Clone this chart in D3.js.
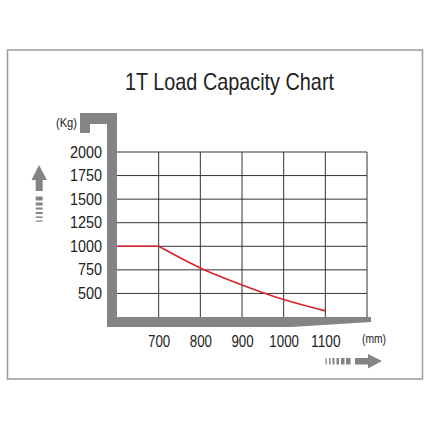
<!DOCTYPE html>
<html>
<head>
<meta charset="utf-8">
<script src="https://cdn.jsdelivr.net/npm/d3@7"></script>
<style>
  body { margin: 0; background: #fff; }
  svg text { font-family: "Liberation Sans", Arial, sans-serif; fill: #222; }
</style>
</head>
<body>
<svg width="430" height="430"></svg>
<script>
// reach (mm) and capacity (kg)
var reach = [600, 700, 800, 900, 1000, 1100];
var capacity = [1000, 1000, 770, 590, 435, 315];
var xTicks = [700, 800, 900, 1000, 1100];
var yTicks = [500, 750, 1000, 1250, 1500, 1750, 2000];
var xGrid = [700, 800, 900, 1000, 1100, 1200];
var yGrid = [500, 750, 1000, 1250, 1500, 1750, 2000];

var svg = d3.select('svg');

var x = d3.scaleLinear().domain([600, 1200]).range([117, 367]);
var y = d3.scaleLinear().domain([250, 2000]).range([317, 152]);

var xLeft = x.range()[0], xRight = x.range()[1];
var yTop = y.range()[1], yBottom = y.range()[0];

// outer frame
svg.append('rect')
  .attr('x', 7.5).attr('y', 50)
  .attr('width', 415).attr('height', 329)
  .attr('fill', 'none')
  .attr('stroke', '#9a9a9a')
  .attr('stroke-width', 1.5);

svg.append('text')
  .attr('x', 125).attr('y', 90)
  .attr('textLength', 209)
  .attr('lengthAdjust', 'spacingAndGlyphs')
  .style('font-size', '24px')
  .text('1T Load Capacity Chart');

// grid
svg.append('g')
  .selectAll('line')
  .data(xGrid)
  .enter().append('line')
  .attr('x1', d => x(d)).attr('x2', d => x(d))
  .attr('y1', yTop).attr('y2', yBottom)
  .attr('stroke', '#333').attr('stroke-width', 1);

svg.append('g')
  .selectAll('line')
  .data(yGrid)
  .enter().append('line')
  .attr('x1', xLeft).attr('x2', xRight)
  .attr('y1', d => y(d)).attr('y2', d => y(d))
  .attr('stroke', '#333').attr('stroke-width', 1);

// fork-shaped gray frame
var g = '#848484';
var fork = d3.path();
fork.moveTo(80, 113);
fork.lineTo(xLeft, 113);
fork.lineTo(xLeft, yBottom);
fork.lineTo(xRight + 4, yBottom);
fork.lineTo(xRight + 4, yBottom + 5);
fork.lineTo(291, yBottom + 10);
fork.lineTo(xLeft - 10, yBottom + 10);
fork.lineTo(xLeft - 10, 124);
fork.lineTo(90, 124);
fork.lineTo(90, 133);
fork.lineTo(80, 133);
fork.closePath();
svg.append('path').attr('d', fork.toString()).attr('fill', g);

// axes
svg.append('g')
  .attr('transform', `translate(${xLeft - 10}, 0)`)
  .call(d3.axisLeft(y).tickValues(yTicks).tickFormat(d3.format('d')).tickSize(0).tickPadding(5))
  .call(a => a.select('.domain').remove())
  .selectAll('text')
  .style('font-size', '16px')
  .attr('textLength', d => String(d).length * 8)
  .attr('lengthAdjust', 'spacingAndGlyphs');

svg.append('g')
  .attr('transform', `translate(0, ${yBottom + 10})`)
  .call(d3.axisBottom(x).tickValues(xTicks).tickFormat(d3.format('d')).tickSize(0).tickPadding(9))
  .call(a => a.select('.domain').remove())
  .selectAll('text')
  .style('font-size', '16px')
  .attr('textLength', d => String(d).length * 7.4)
  .attr('lengthAdjust', 'spacingAndGlyphs');

// capacity line: flat to 700, then curve
svg.append('path')
  .datum(reach.slice(0, 2).map((r, i) => [r, capacity[i]]))
  .attr('d', d3.line().x(d => x(d[0])).y(d => y(d[1])))
  .attr('fill', 'none').attr('stroke', '#d7262b').attr('stroke-width', 1.6);

svg.append('path')
  .datum(reach.slice(1).map((r, i) => [r, capacity[i + 1]]))
  .attr('d', d3.line().x(d => x(d[0])).y(d => y(d[1])).curve(d3.curveMonotoneX))
  .attr('fill', 'none').attr('stroke', '#d7262b').attr('stroke-width', 1.6);

// unit labels
svg.append('text')
  .attr('x', 77).attr('y', 127)
  .attr('text-anchor', 'end')
  .attr('textLength', 21)
  .attr('lengthAdjust', 'spacingAndGlyphs')
  .style('font-size', '13px')
  .text('(Kg)');

svg.append('text')
  .attr('x', 362).attr('y', 343)
  .attr('textLength', 24)
  .attr('lengthAdjust', 'spacingAndGlyphs')
  .style('font-size', '13px')
  .text('(mm)');

// up arrow with fading dashes
svg.append('path')
  .attr('d', 'M39,165 L47,180 L42.7,180 L42.7,191 L35.7,191 L35.7,180 L31.5,180 Z')
  .attr('fill', g);
[[196.5, 4], [202.5, 3], [207.5, 2], [212, 2], [216.5, 1.5], [220.5, 1.2]].forEach(function (d) {
  svg.append('rect')
    .attr('x', 35.7).attr('y', d[0])
    .attr('width', 7).attr('height', d[1])
    .attr('fill', g);
});

// right arrow with fading dashes
svg.append('path')
  .attr('d', 'M382,361 L368,354 L368,358 L355,358 L355,364.5 L368,364.5 L368,368.5 Z')
  .attr('fill', g);
[[325.5, 1.2], [329, 1.5], [332.5, 2], [336.5, 2.5], [341, 3.5], [346, 4.5]].forEach(function (d) {
  svg.append('rect')
    .attr('x', d[0]).attr('y', 358)
    .attr('width', d[1]).attr('height', 6.5)
    .attr('fill', g);
});
</script>
</body>
</html>
